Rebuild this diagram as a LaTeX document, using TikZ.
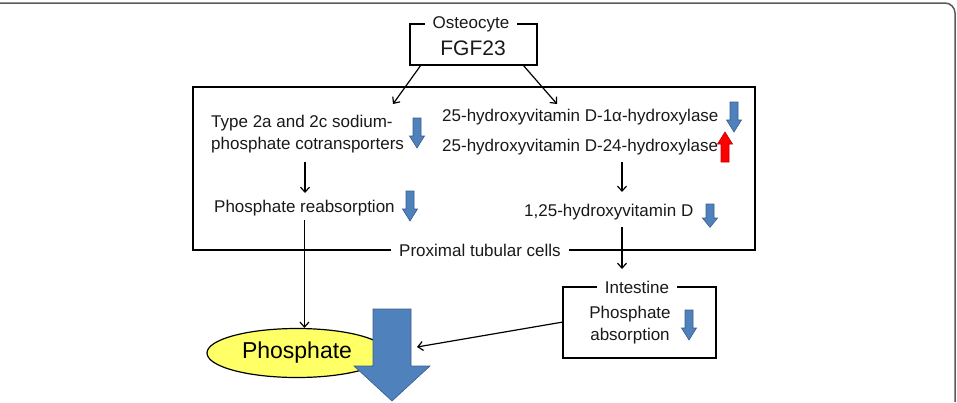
\documentclass[tikz,border=0pt]{standalone}
\usepackage{fontspec}
\setmainfont{Liberation Sans}
\usetikzlibrary{arrows.meta,shapes.geometric}
\definecolor{blk}{RGB}{79,129,189}
\definecolor{blkd}{RGB}{56,93,138}
\definecolor{yel}{RGB}{255,255,102}
\definecolor{frame}{RGB}{90,90,90}
\begin{document}
\begin{tikzpicture}[x=1pt,y=-1pt,
  txt/.style={inner sep=0pt, font=\fontsize{17}{22}\selectfont, text=black!90},
  lbl/.style={txt, fill=white, inner xsep=8pt, inner ysep=2pt},
  boxx/.style={draw, line width=1.5pt, inner sep=0pt},
  arr/.style={line width=1.2pt, -{Straight Barb[length=5pt,width=9pt]}},
  smarr/.pic={\path[pic actions] (-4,0) -- (4,0) -- (4,18) -- (7.5,18) -- (0,30) -- (-7.5,18) -- (-4,18) -- cycle;},
  bluea/.style={fill=blk, draw=blkd, line width=0.6pt},
  reda/.style={fill=red, draw=red!75!black, line width=0.6pt}]
\useasboundingbox (0,0) rectangle (957,402);
% outer frame
\draw[frame, line width=1.5pt, rounded corners=10pt] (0,3) -- (955,3) -- (955,402);

% FGF23 box
\node[boxx, line width=2pt, minimum width=127pt, minimum height=41pt] (fgfbox) at (473.5,44.5) {};
\node[txt, font=\fontsize{21}{24}\selectfont] (fgf) at (473,48) {FGF23};
\node[lbl] (ost) at (471,24) {Osteocyte};

% proximal tubular cells box
\node[boxx, minimum width=562pt, minimum height=163pt] (prox) at (474,168.5) {};
\node[lbl] (proxl) at (480,250) {Proximal tubular cells};

% texts inside
\node[txt, anchor=west, align=left] (nat) at (211,134) {Type 2a and 2c sodium-\\phosphate cotransporters};
\node[txt, anchor=west] (reab) at (214,208) {Phosphate reabsorption};
\node[txt, anchor=west] (h1) at (442,117) {25-hydroxyvitamin D-1α-hydroxylase};
\node[txt, anchor=west] (h24) at (442,147) {25-hydroxyvitamin D-24-hydroxylase};
\node[txt, anchor=west] (d125) at (524,212) {1,25-hydroxyvitamin D};

% intestine box
\node[boxx, minimum width=153pt, minimum height=71pt] (intbox) at (639.5,322.5) {};
\node[lbl] (intl) at (637,287) {Intestine};
\node[txt, align=center] (abs) at (630,325) {Phosphate\\absorption};

% phosphate ellipse
\node[ellipse, draw, line width=1.2pt, fill=yel, minimum width=180pt, minimum height=49pt, inner sep=0pt,
      font=\fontsize{23}{26}\selectfont] (pho) at (297,353) {Phosphate};

% big blue arrow
\path[bluea] (373,309) -- (411,309) -- (411,366) -- (430,366) -- (392,401) -- (354,366) -- (373,366) -- cycle;

% coordinates for connectors
\coordinate (fl) at (421,65);
\coordinate (fr) at (523,65);
\coordinate (tl) at (393,104);
\coordinate (tr) at (557,104);
\coordinate (v1a) at (305,162);
\coordinate (v1b) at (305,193);
\coordinate (v2a) at (622,162);
\coordinate (v2b) at (622,192);
\coordinate (v3a) at (622,227);
\coordinate (v3b) at (622,269);
\coordinate (ia) at (563,322);
\coordinate (ib) at (417,347);

% connectors
\draw[arr] (fl) -- (tl);
\draw[arr] (fr) -- (tr);
\draw[arr] (v1a) -- (v1b);
\draw[arr] (reab.south) ++(0,4) -- (reab.south |- pho.north);
\draw[arr] (v2a) -- (v2b);
\draw[arr] (v3a) -- (v3b);
\draw[arr] (ia) -- (ib);

% small block arrows
\pic[bluea] at (417,118) {smarr};
\pic[bluea] at (410,191) {smarr};
\pic[bluea] at (734,102) {smarr};
\pic[reda, rotate=180] at (725,162) {smarr};
\pic[bluea, yscale=0.78] at (710,204) {smarr};
\pic[bluea] at (689,310) {smarr};
\end{tikzpicture}
\end{document}
